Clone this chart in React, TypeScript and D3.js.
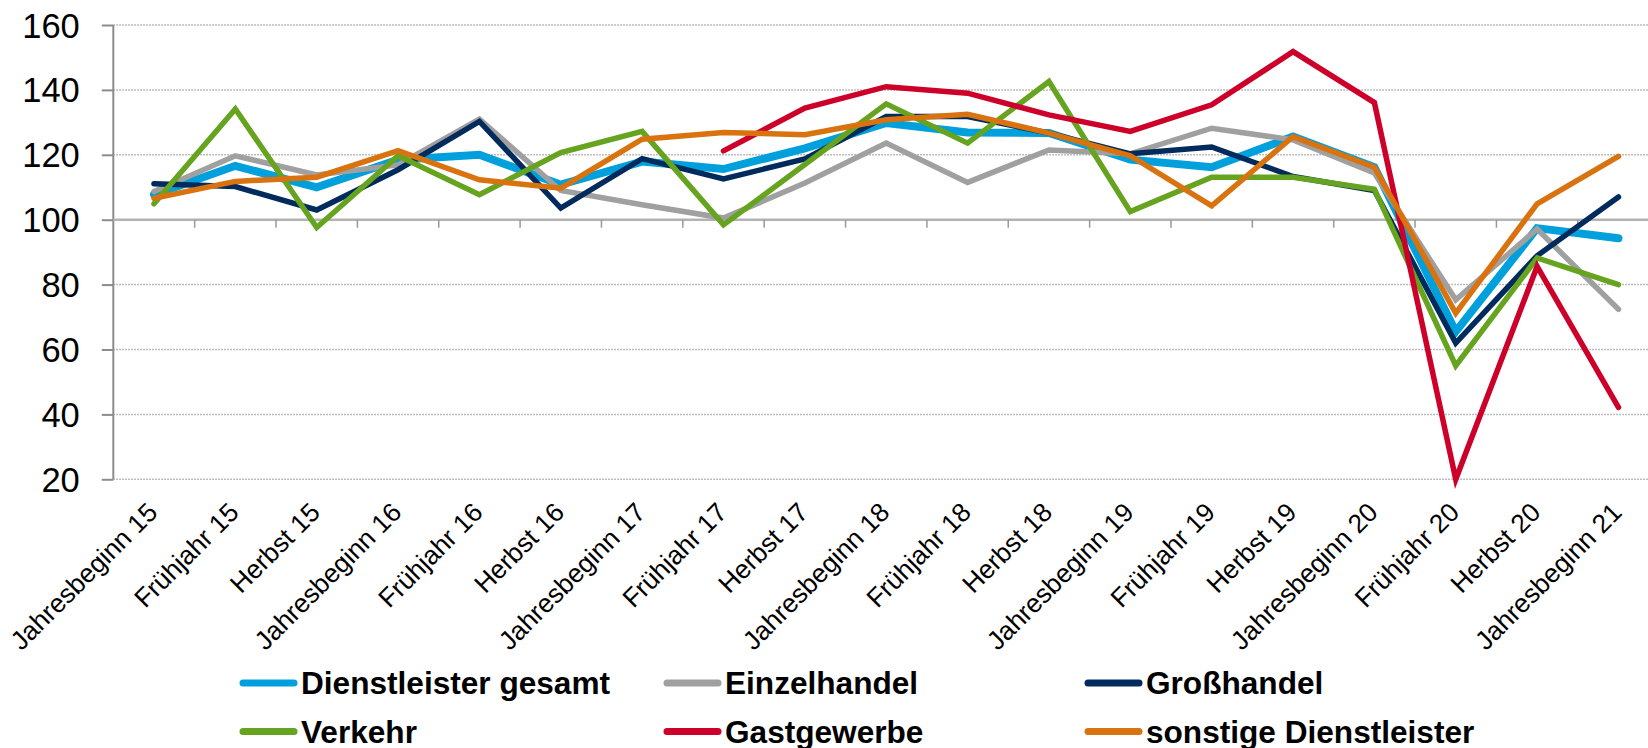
import { useEffect, useRef } from 'react'
import * as d3 from 'd3'

const CATEGORIES = [
  'Jahresbeginn 15', 'Frühjahr 15', 'Herbst 15',
  'Jahresbeginn 16', 'Frühjahr 16', 'Herbst 16',
  'Jahresbeginn 17', 'Frühjahr 17', 'Herbst 17',
  'Jahresbeginn 18', 'Frühjahr 18', 'Herbst 18',
  'Jahresbeginn 19', 'Frühjahr 19', 'Herbst 19',
  'Jahresbeginn 20', 'Frühjahr 20', 'Herbst 20',
  'Jahresbeginn 21'
]

const Y_TICKS = [20, 40, 60, 80, 100, 120, 140, 160]

const DIENSTLEISTER_GESAMT = [107.7, 116.6, 110, 118.5, 120, 110.8, 117.9, 115.6, 122, 129.8, 126.9, 126.7, 118.5, 116.2, 125.6, 116.2, 65.5, 97.4, 94.3]
const EINZELHANDEL = [108.7, 119.7, 113.8, 116.9, 131, 109, 104.6, 100.5, 111.3, 123.6, 111.5, 121.5, 120.3, 128.2, 124.6, 114.4, 75.3, 97.1, 72.4]
const GROSSHANDEL = [111.1, 110.2, 103, 115.4, 130.3, 103.6, 118.8, 112.6, 118.7, 131.8, 131.8, 126.7, 120.3, 122.4, 113.3, 109, 62, 88.9, 107]
const VERKEHR = [104.9, 134.1, 97.6, 119.7, 107.7, 120.7, 127.2, 98.4, 117, 135.7, 123.6, 142.6, 102.5, 113.1, 113.1, 109.4, 55, 88.2, 80]
const GASTGEWERBE = [null, null, null, null, null, null, null, 121.2, 134.4, 141, 139, 132.3, 127.2, 135.4, 151.8, 136.1, 20, 85.6, 42.2]
const SONSTIGE = [106.6, 111.8, 113.1, 121.3, 112.3, 109.7, 124.8, 126.9, 126.2, 130.8, 132.5, 126.7, 119.7, 104.3, 125.6, 116.2, 71.2, 104.9, 119.5]

const SERIES = [
  { name: 'Dienstleister gesamt', values: DIENSTLEISTER_GESAMT, color: '#00a0dc', width: 8 },
  { name: 'Einzelhandel', values: EINZELHANDEL, color: '#a0a0a0', width: 5.5 },
  { name: 'Großhandel', values: GROSSHANDEL, color: '#002b5c', width: 5.5 },
  { name: 'Verkehr', values: VERKEHR, color: '#66a31f', width: 5.5 },
  { name: 'Gastgewerbe', values: GASTGEWERBE, color: '#cc0029', width: 5.5 },
  { name: 'sonstige Dienstleister', values: SONSTIGE, color: '#d9730f', width: 5.5 }
]

const FONT = '"Liberation Sans", Arial, sans-serif'

export default function App() {
  const svgRef = useRef<SVGSVGElement>(null)

  useEffect(() => {
    if (!svgRef.current) return
    const svg = d3.select(svgRef.current)
    svg.selectAll('*').remove()

    const W = 1648
    const H = 748
    const left = 113.3
    const band = 81.36
    const top = 25
    const bottom = 479.3

    const x = d3.scalePoint<string>()
      .domain(CATEGORIES)
      .range([left, left + band * CATEGORIES.length])
      .padding(0.5)
    const y = d3.scaleLinear().domain([20, 160]).range([bottom, top])

    // dotted gridlines
    svg.append('g')
      .selectAll('line')
      .data(Y_TICKS.filter(t => t !== 100))
      .join('line')
      .attr('x1', left).attr('x2', W)
      .attr('y1', d => y(d)).attr('y2', d => y(d))
      .attr('stroke', '#a8a8a8')
      .attr('stroke-width', 1.5)
      .attr('stroke-dasharray', '1.5 1.5')

    // y axis
    const yAxis = svg.append('g')
      .attr('transform', `translate(${left},0)`)
      .call(d3.axisLeft(y).tickValues(Y_TICKS).tickSize(11.5).tickPadding(22))
    yAxis.select('.domain').attr('stroke', '#8c8c8c').attr('stroke-width', 2)
      .attr('d', `M0,${top}V${bottom}`)
    yAxis.selectAll('line').attr('stroke', '#8c8c8c').attr('stroke-width', 2)
    yAxis.selectAll('text')
      .attr('fill', '#000')
      .attr('font-family', FONT)
      .attr('font-size', 34.5)
      .attr('dy', '0.35em')

    // category axis crossing at 100
    const y100 = y(100)
    svg.append('line')
      .attr('x1', left).attr('x2', W)
      .attr('y1', y100).attr('y2', y100)
      .attr('stroke', '#b3b3b3').attr('stroke-width', 2.5)
    svg.append('g')
      .selectAll('line')
      .data(CATEGORIES.slice(1))
      .join('line')
      .attr('x1', d => (x(d) as number) - band / 2)
      .attr('x2', d => (x(d) as number) - band / 2)
      .attr('y1', y100).attr('y2', y100 + 8)
      .attr('stroke', '#999').attr('stroke-width', 1.5)

    // category labels
    svg.append('g')
      .selectAll('text')
      .data(CATEGORIES)
      .join('text')
      .attr('transform', d => `translate(${(x(d) as number) + 5},514) rotate(-45)`)
      .attr('text-anchor', 'end')
      .attr('font-family', FONT)
      .attr('font-size', 26.3)
      .attr('fill', '#000')
      .text(d => d)

    // series lines
    const line = d3.line<number | null>()
      .defined(d => d != null)
      .x((_, i) => x(CATEGORIES[i]) as number)
      .y(d => y(d as number))

    SERIES.forEach(s => {
      svg.append('path')
        .datum(s.values)
        .attr('d', line)
        .attr('fill', 'none')
        .attr('stroke', s.color)
        .attr('stroke-width', s.width)
        .attr('stroke-linecap', 'round')
        .attr('stroke-linejoin', 'miter')
    })

    // legend, two rows of three
    const colX = [240, 664, 1085]
    const rowY = [683, 731.5]
    const lg = svg.append('g')
    SERIES.forEach((s, i) => {
      const lx = colX[i % 3]
      const ly = rowY[Math.floor(i / 3)]
      lg.append('line')
        .attr('x1', lx + 3).attr('x2', lx + 54)
        .attr('y1', ly).attr('y2', ly)
        .attr('stroke', s.color)
        .attr('stroke-width', 7)
        .attr('stroke-linecap', 'round')
      lg.append('text')
        .attr('x', lx + 61).attr('y', ly + 11)
        .attr('font-family', FONT)
        .attr('font-size', 31.6)
        .attr('font-weight', 'bold')
        .attr('fill', '#000')
        .text(s.name)
    })

    svg.attr('width', W).attr('height', H)
  }, [])

  return (
    <div style={{ position: 'absolute', left: 0, top: 0, width: 1648, height: 748, overflow: 'hidden', background: '#fff' }}>
      <svg ref={svgRef} width={1648} height={748} style={{ display: 'block' }} />
    </div>
  )
}
